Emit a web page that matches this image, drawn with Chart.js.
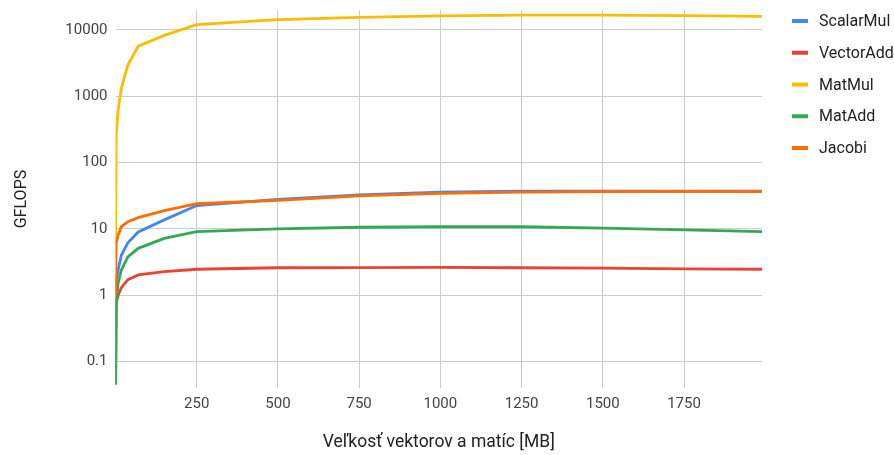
<!DOCTYPE html>
<html><head><meta charset="utf-8">
<script src="https://cdn.jsdelivr.net/npm/chart.js@4"></script>
<style>html,body{margin:0;padding:0;background:#fff}#wrap{width:894px;height:455px;position:relative}</style>
</head><body><div id="wrap"><canvas id="c" width="894" height="455"></canvas></div>
<script>
const sizesMB   = [0.1, 2, 8, 18, 38, 70, 150, 250, 500, 750, 1000, 1250, 1500, 1750, 1990];
const scalarMul = [0.045, 1.7, 2.4, 4.0, 6.2, 9.0, 13.7, 22.5, 28, 32.6, 35.8, 37, 37.3, 37, 37];
const vectorAdd = [0.045, 0.77, 1.0, 1.3, 1.72, 2.03, 2.27, 2.47, 2.6, 2.62, 2.63, 2.6, 2.56, 2.5, 2.47];
const matMul    = [6.2, 260, 620, 1320, 2960, 5700, 8300, 12000, 14300, 15500, 16300, 16700, 16700, 16500, 16000];
const matAdd    = [0.045, 0.75, 1.52, 2.4, 3.8, 5.1, 7.2, 9.1, 10.0, 10.6, 10.8, 10.8, 10.3, 9.7, 9.1];
const jacobi    = [1.05, 6.1, 8.1, 10.8, 12.9, 14.8, 18.9, 24.0, 27, 31.5, 34.5, 36, 36.5, 36.8, 36.5];
const seriesNames  = ['ScalarMul', 'VectorAdd', 'MatMul', 'MatAdd', 'Jacobi'];
const seriesValues = [scalarMul, vectorAdd, matMul, matAdd, jacobi];
const seriesColors = ['#4285F4', '#EA4335', '#FBBC04', '#34A853', '#FF6D01'];
const xTickValues = [250, 500, 750, 1000, 1250, 1500, 1750];
const yTickValues = [0.1, 1, 10, 100, 1000, 10000];
const xTitle = 'Veľkosť vektorov a matíc [MB]';
const yTitle = 'GFLOPS';

const FONT = 'Roboto';

const datasets = seriesNames.map((name, i) => ({
  label: name,
  data: sizesMB.map((x, j) => ({x: x, y: seriesValues[i][j]})),
  borderColor: seriesColors[i],
  backgroundColor: seriesColors[i],
  borderWidth: 2.8,
  pointRadius: 0,
  tension: 0,
  fill: false,
  order: seriesNames.length - i
}));

const sideLegend = {
  id: 'sideLegend',
  afterDraw(chart) {
    const ctx = chart.ctx;
    ctx.save();
    ctx.font = '16px ' + FONT;
    ctx.textBaseline = 'middle';
    ctx.textAlign = 'left';
    chart.data.datasets.forEach((ds, i) => {
      const y = 21 + i * 31.75;
      ctx.strokeStyle = ds.borderColor;
      ctx.lineWidth = 4;
      ctx.beginPath();
      ctx.moveTo(792, y);
      ctx.lineTo(808, y);
      ctx.stroke();
      ctx.fillStyle = '#222222';
      ctx.fillText(ds.label, 819, y + 1);
    });
    ctx.restore();
  }
};

new Chart(document.getElementById('c'), {
  type: 'line',
  data: { datasets: datasets },
  plugins: [sideLegend],
  options: {
    responsive: false,
    animation: false,
    devicePixelRatio: 1,
    layout: { padding: { left: 0, top: 10, right: 132, bottom: 0 } },
    plugins: { legend: { display: false }, tooltip: { enabled: false } },
    scales: {
      x: {
        type: 'linear',
        min: 0,
        max: sizesMB[sizesMB.length - 1],
        afterBuildTicks: s => { s.ticks = xTickValues.map(v => ({value: v})); },
        afterFit: s => { s.height = 67; s.paddingLeft = 0; s.paddingRight = 0; },
        grid: { color: '#cccccc', lineWidth: 1, drawTicks: false },
        border: { display: false },
        ticks: { color: '#444444', font: { family: FONT, size: 15 }, padding: 7, maxRotation: 0,
                 callback: v => String(v) },
        title: { display: true, text: xTitle, color: '#222222', font: { family: FONT, size: 17.5 },
                 padding: { top: 0, bottom: 2 } }
      },
      y: {
        type: 'logarithmic',
        min: 0.04,
        max: 20000,
        afterBuildTicks: s => { s.ticks = yTickValues.map(v => ({value: v})); },
        afterFit: s => { s.width = 115.5; s.paddingTop = 0; s.paddingBottom = 0; },
        grid: { color: '#cccccc', lineWidth: 1, drawTicks: false },
        border: { display: false },
        ticks: { color: '#444444', font: { family: FONT, size: 15 }, padding: 8,
                 callback: v => String(v) },
        title: { display: true, text: yTitle, color: '#222222', font: { family: FONT, size: 16 },
                 padding: { top: 12, bottom: 0 } }
      }
    }
  }
});
</script>
</body></html>
